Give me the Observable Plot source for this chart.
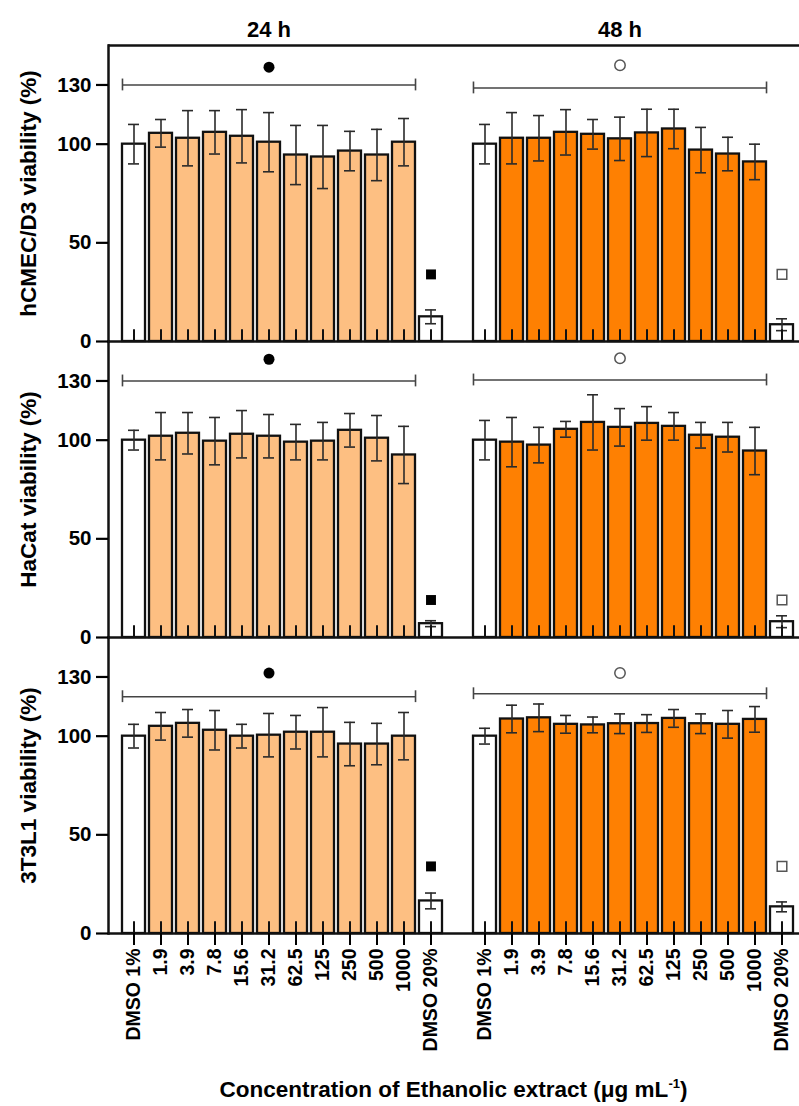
<!DOCTYPE html>
<html>
<head>
<meta charset="utf-8">
<script src="https://cdn.jsdelivr.net/npm/d3@7"></script>
<script src="https://cdn.jsdelivr.net/npm/@observablehq/plot@0.6"></script>
<style>
  body { margin: 0; background: #fff; font-family: "Liberation Sans", Arial, sans-serif; }
  #wrap { position: relative; width: 799px; height: 1106px; }
  #xtitle {
    position: absolute; left: 108px; width: 691px; top: 1075px;
    text-align: center; font-weight: bold; font-size: 22.5px; line-height: 30px; color: #000;
  }
  #xtitle sup { font-size: 13px; vertical-align: 9px; line-height: 0; }
</style>
</head>
<body>
<div id="wrap">
  <div id="chart"></div>
  <div id="xtitle">Concentration of Ethanolic extract (μg mL<sup>-1</sup>)</div>
</div>
<script>
// Cell lines (one panel row each) and their axis titles
const cellLines = ["hCMEC/D3", "HaCat", "3T3L1"];
const yTitles = ["hCMEC/D3 viability (%)", "HaCat viability (%)", "3T3L1 viability (%)"];
const times = ["24 h", "48 h"];
const treatments = ["DMSO 1%", "1.9", "3.9", "7.8", "15.6", "31.2", "62.5", "125", "250", "500", "1000", "DMSO 20%"];
const yTicks = [0, 50, 100, 130];

// Mean viability (%) and SD, per treatment
const hcmec24 = [100, 105.5, 103, 106, 104, 101, 94.5, 93.5, 96.5, 94.5, 101, 12.5];
const hcmec24sd = [10, 7, 14, 11, 13.5, 15, 15, 16, 10, 13, 12, 3.5];
const hcmec48 = [100, 103, 103, 106, 105, 102.7, 105.7, 107.7, 97, 95, 91, 8.5];
const hcmec48sd = [10, 13, 11.5, 11.5, 7.5, 11, 12, 10, 11.5, 8.5, 9, 3];

const hacat24 = [100, 102, 103.5, 99.5, 103, 102, 99, 99.5, 105, 101, 92.5, 7];
const hacat24sd = [5, 12, 10.5, 12, 12, 11, 9, 9.5, 8.5, 11.5, 14.5, 1.5];
const hacat48 = [100, 99, 97.5, 105.5, 109, 106.5, 108.5, 107, 102.5, 101.5, 94.5, 8];
const hacat48sd = [10, 12.5, 9, 4, 14, 9.5, 8.5, 7, 6.5, 7.5, 12, 3];

const t3l1_24 = [100, 105, 106.5, 103, 100, 100.5, 102, 102, 96, 96, 100, 16.5];
const t3l1_24sd = [6, 7, 7, 10, 6, 11, 8.5, 12.5, 11, 10.5, 12, 4];
const t3l1_48 = [100, 108.7, 109.3, 106, 105.7, 106.3, 106.4, 109, 106.3, 106, 108.5, 13.5];
const t3l1_48sd = [4, 7, 7, 4.5, 4, 5, 4.5, 4.5, 5, 7, 6.5, 2.5];

// Significance annotations: bracket height, symbol height (per cell line, per time)
const bracketY = [[130, 128.5], [130, 130.5], [120, 121.5]];
const symbolY = [[139, 140], [141, 141.5], [132, 132]];
const squareY = [34, 19, 34];

const colors = {control: "#ffffff", "24 h": "#fdbf82", "48 h": "#fe8002"};

const means = [[hcmec24, hcmec48], [hacat24, hacat48], [t3l1_24, t3l1_48]];
const sds = [[hcmec24sd, hcmec48sd], [hacat24sd, hacat48sd], [t3l1_24sd, t3l1_48sd]];

const key = (t, tr) => `${t}|${tr}`;
const xDomain = [...treatments.map(tr => key(times[0], tr)), "gap", ...treatments.map(tr => key(times[1], tr))];
const tickKeys = xDomain.filter(k => k !== "gap");

const rows = [];
cellLines.forEach((cell, i) => {
  times.forEach((t, ti) => {
    treatments.forEach((tr, j) => {
      rows.push({
        cell, time: t, key: key(t, tr),
        mean: means[i][ti][j], sd: sds[i][ti][j],
        kind: (j === 0 || j === treatments.length - 1) ? "control" : t
      });
    });
  });
});

const brackets = [], symbols = [], squares = [];
cellLines.forEach((cell, i) => {
  times.forEach((t, ti) => {
    brackets.push({cell, from: key(t, treatments[0]), to: key(t, treatments[10]), y: bracketY[i][ti]});
    symbols.push({cell, time: t, x: key(t, "31.2"), y: symbolY[i][ti]});
    squares.push({cell, time: t, x: key(t, "DMSO 20%"), y: squareY[i]});
  });
});
const headers = times.map(t => ({cell: cellLines[0], x: key(t, "31.2"), text: t}));
const titles = cellLines.map((cell, i) => ({cell, text: yTitles[i]}));

// Band layout
const xRange = [120.5, 794];
const padInner = 0.15;
const step = (xRange[1] - xRange[0]) / (xDomain.length - padInner);
const halfBand = step * (1 - padInner) / 2;

const fy = "cell";
const bar = (kind) => Plot.barY(rows.filter(d => d.kind === kind), {
  x: "key", y: "mean", fy, fill: colors[kind], stroke: "#111", strokeWidth: 2.3
});

const chart = Plot.plot({
  width: 799,
  height: 1062,
  marginLeft: 108,
  marginRight: 0,
  marginTop: 45,
  marginBottom: 129,
  style: {fontFamily: "'Liberation Sans', Arial, sans-serif", fontWeight: "bold", color: "#000", background: "#fff"},
  x: {domain: xDomain, range: xRange, paddingInner: padInner, paddingOuter: 0, align: 0.5},
  y: {domain: [0, 150]},
  fy: {domain: cellLines, padding: 0, axis: null},
  marks: [
    bar("control"),
    bar("24 h"),
    bar("48 h"),
    // error bars
    Plot.ruleX(rows, {x: "key", y1: d => d.mean - d.sd, y2: d => d.mean + d.sd, fy, stroke: "#2a2a2a", strokeWidth: 1.6}),
    Plot.tickY(rows, {x: "key", y: d => d.mean + d.sd, fy, stroke: "#2a2a2a", strokeWidth: 1.6, insetLeft: 6, insetRight: 6}),
    Plot.tickY(rows, {x: "key", y: d => d.mean - d.sd, fy, stroke: "#2a2a2a", strokeWidth: 1.6, insetLeft: 6, insetRight: 6}),
    // inner ticks rising from the baseline
    Plot.ruleX(rows, {x: "key", y1: 0, y2: 6, fy, stroke: "#111", strokeWidth: 2}),
    // frame: left axis, baselines, top edge
    Plot.frame({anchor: "left", stroke: "#111", strokeWidth: 2.5}),
    Plot.ruleY(cellLines, {y: 0, fy: d => d, stroke: "#111", strokeWidth: 2.5}),
    Plot.ruleY([cellLines[0]], {y: 150, fy: d => d, stroke: "#111", strokeWidth: 2.5}),
    // significance brackets
    Plot.ruleY(brackets, {x1: "from", x2: "to", y: "y", fy, stroke: "#444", strokeWidth: 1.6}),
    Plot.ruleX(brackets, {x: "from", y1: d => d.y - 3, y2: d => d.y + 3, fy, dx: -halfBand, stroke: "#444", strokeWidth: 1.6}),
    Plot.ruleX(brackets, {x: "to", y1: d => d.y - 3, y2: d => d.y + 3, fy, dx: halfBand, stroke: "#444", strokeWidth: 1.6}),
    Plot.dot(symbols.filter(d => d.time === "24 h"), {x: "x", y: "y", fy, r: 5.5, fill: "#000", stroke: "none"}),
    Plot.dot(symbols.filter(d => d.time === "48 h"), {x: "x", y: "y", fy, r: 5.2, fill: "#fff", stroke: "#555", strokeWidth: 1.5}),
    Plot.dot(squares.filter(d => d.time === "24 h"), {x: "x", y: "y", fy, symbol: "square", r: 5.6, fill: "#000", stroke: "none"}),
    Plot.dot(squares.filter(d => d.time === "48 h"), {x: "x", y: "y", fy, symbol: "square", r: 5.4, fill: "#fff", stroke: "#555", strokeWidth: 1.5}),
    // titles
    Plot.text(titles, {fy, text: "text", frameAnchor: "left", dx: -80, rotate: -90, textAnchor: "middle", lineAnchor: "middle",
      fontSize: 22.5, fontWeight: "bold", fill: "#000"}),
    Plot.text(headers, {x: "x", fy, text: "text", frameAnchor: "top", dy: -16, textAnchor: "middle", lineAnchor: "middle",
      fontSize: 22, fontWeight: "bold", fill: "#000"}),
    // axes
    Plot.axisY({ticks: yTicks, tickSize: 12, tickPadding: 5, fontSize: 20.5, fontWeight: "bold", strokeWidth: 2.2, label: null}),
    Plot.axisX({ticks: tickKeys, tickFormat: k => k.split("|")[1], tickRotate: -90, tickSize: 12, tickPadding: 3,
      fontSize: 19.5, fontWeight: "bold", strokeWidth: 2, label: null})
  ]
});
document.getElementById("chart").appendChild(chart);
</script>
</body>
</html>
